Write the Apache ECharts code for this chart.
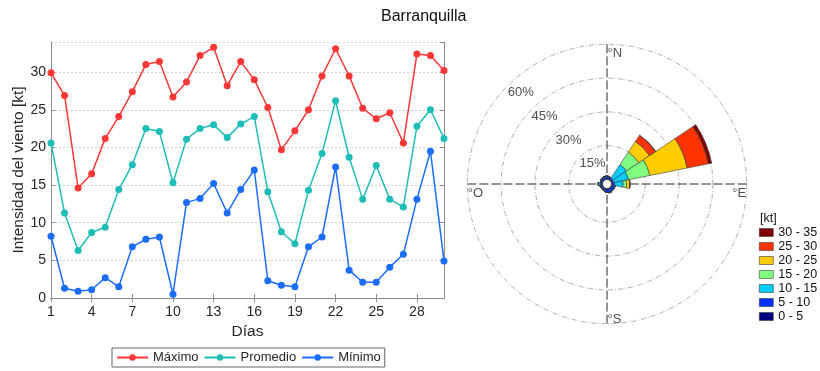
<!DOCTYPE html>
<html>
<head>
<meta charset="utf-8">
<script src="https://cdn.jsdelivr.net/npm/echarts@6/dist/echarts.min.js"></script>
<style>
  html, body { margin: 0; padding: 0; background: #fff; }
  #chart { width: 820px; height: 371px; }
</style>
</head>
<body>
<div id="chart"></div>
<script>
// Serie diaria de viento (kt)
const dias = ['1','2','3','4','5','6','7','8','9','10','11','12','13','14','15',
              '16','17','18','19','20','21','22','23','24','25','26','27','28','29','30'];
const maximo = [29.9, 26.9, 14.6, 16.5, 21.2, 24.1, 27.4, 31.0, 31.4, 26.7, 28.7, 32.2, 33.3, 28.2, 31.4,
                29.0, 25.3, 19.7, 22.2, 25.0, 29.5, 33.1, 29.5, 25.2, 23.8, 24.6, 20.6, 32.4, 32.2, 30.2];
const promedio = [20.6, 11.3, 6.3, 8.7, 9.4, 14.4, 17.7, 22.5, 22.1, 15.3, 21.1, 22.5, 23.0, 21.3, 23.1,
                  24.1, 14.1, 8.8, 7.2, 14.3, 19.2, 26.2, 18.7, 13.1, 17.6, 13.1, 12.1, 22.8, 25.0, 21.2];
const minimo = [8.2, 1.3, 0.9, 1.1, 2.7, 1.5, 6.8, 7.8, 8.1, 0.5, 12.7, 13.2, 15.2, 11.3, 14.4,
                17.0, 2.3, 1.7, 1.5, 6.8, 8.1, 17.4, 3.7, 2.1, 2.1, 4.1, 5.8, 13.1, 19.5, 4.9];
const nombresSeries = ['Máximo', 'Promedio', 'Mínimo'];

// Rosa de vientos: frecuencia (%) por dirección y rango de velocidad
const direcciones = ['N','NNE','NE','ENE','E','ESE','SE','SSE','S','SSO','SO','OSO','O','ONO','NO','NNO'];
const rangos = ['0 - 5','5 - 10','10 - 15','15 - 20','20 - 25','25 - 30','30 - 35'];
const frec_0_5   = [0.4, 0.4, 0.3, 0.3, 0.4, 0.4, 0.4, 0.5, 0.5, 0.4, 0.3, 0.3, 0.3, 0.3, 0.4, 0.4];
const frec_5_10  = [1.1, 0.9, 0.8, 0.8, 1.0, 1.3, 1.4, 1.5, 1.3, 0.9, 0.7, 0.6, 0.7, 0.8, 1.0, 1.1];
const frec_10_15 = [0, 0, 7.3, 6.7, 3.8, 0, 0, 0, 0, 0, 0, 0.3, 0.9, 0, 0, 0];
const frec_15_20 = [0, 0, 6.6, 9.6, 1.5, 0, 0, 0, 0, 0, 0, 0, 0, 0, 0, 0];
const frec_20_25 = [0, 0, 5.7, 16.9, 1.5, 0, 0, 0, 0, 0, 0, 0, 0, 0, 0, 0];
const frec_25_30 = [0, 0, 3.3, 9.6, 0, 0, 0, 0, 0, 0, 0, 0, 0, 0, 0, 0];
const frec_30_35 = [0, 0, 0, 1.5, 0, 0, 0, 0, 0, 0, 0, 0, 0, 0, 0, 0];
const frecuencias = [frec_0_5, frec_5_10, frec_10_15, frec_15_20, frec_20_25, frec_25_30, frec_30_35];
const coloresRangos = ['#000080', '#0033ff', '#00ccff', '#80ff80', '#ffcc00', '#ff3300', '#800000'];

// Anillos y puntos cardinales
const anillos = [15, 30, 45, 60];
const etiquetasAnillos = ['15%', '30%', '45%', '60%'];
const puntosCardinales = ['°N', '°E', '°S', '°O'];
const angulosCardinales = [0, 90, 180, 270];

const txt = '#262626';
const ejeColor = '#8c8c8c';
const fuente = 'Liberation Sans, Arial, sans-serif';

const chart = echarts.init(document.getElementById('chart'), null, { renderer: 'canvas' });

const lineColors = ['#ff3737', '#1ebdb7', '#1a6dff'];
const lineSeries = [maximo, promedio, minimo].map((d, i) => ({
  name: nombresSeries[i],
  type: 'line',
  xAxisIndex: 0,
  yAxisIndex: 0,
  data: d,
  symbol: 'circle',
  symbolSize: 7,
  color: lineColors[i],
  lineStyle: { width: 1.5, color: lineColors[i] },
  itemStyle: { color: lineColors[i] },
  animation: false
}));

const roseSeries = frecuencias.map((d, i) => ({
  name: rangos[i],
  type: 'bar',
  coordinateSystem: 'polar',
  polarIndex: 0,
  stack: 'rosa',
  data: d,
  barCategoryGap: '0%',
  itemStyle: { color: coloresRangos[i], borderColor: '#3a3a3a', borderWidth: 0.6 },
  animation: false
}));

const cardinalLabelCfg = [
  { position: [1, 3], align: 'left', verticalAlign: 'top' },
  { position: [0, 3], align: 'right', verticalAlign: 'top' },
  { position: [1, 3], align: 'left', verticalAlign: 'bottom' },
  { position: [1, 3], align: 'left', verticalAlign: 'top' }
];

const labelData = [];
anillos.forEach((r, i) => {
  labelData.push({
    name: etiquetasAnillos[i],
    value: [r, 315],
    label: { position: [0, 1], align: 'left', verticalAlign: 'top' }
  });
});
puntosCardinales.forEach((t, i) => {
  labelData.push({
    name: t,
    value: [anillos[anillos.length - 1], angulosCardinales[i]],
    label: cardinalLabelCfg[i]
  });
});

const option = {
  backgroundColor: '#fff',
  animation: false,
  textStyle: { fontFamily: fuente },
  title: [
    { text: 'Barranquilla', left: 376, top: 4,
      textStyle: { fontSize: 16, fontWeight: 'normal', color: '#111', fontFamily: fuente } },
    { text: '[kt]', left: 755, top: 207,
      textStyle: { fontSize: 12.5, fontWeight: 'normal', color: '#111', fontFamily: fuente } }
  ],
  legend: [
    {
      data: nombresSeries,
      orient: 'horizontal',
      left: 112, top: 348,
      padding: [3, 4],
      itemWidth: 31, itemHeight: 8, itemGap: 5,
      borderColor: '#666', borderWidth: 1,
      textStyle: { fontSize: 13, color: txt, fontFamily: fuente }
    },
    {
      data: rangos.slice().reverse(),
      orient: 'vertical',
      left: 759, top: 226,
      padding: 0,
      icon: 'rect',
      itemWidth: 14, itemHeight: 8, itemGap: 1,
      itemStyle: { borderWidth: 0.6, borderColor: '#3a3a3a' },
      textStyle: { fontSize: 12.5, color: '#111', fontFamily: fuente }
    }
  ],
  grid: {
    left: 51, right: 376, top: 42, bottom: 73,
    containLabel: false,
    outerBoundsMode: 'none'
  },
  xAxis: [
    {
      type: 'category', data: dias, boundaryGap: false,
      name: 'Días', nameLocation: 'middle', nameGap: 25,
      nameTextStyle: { fontSize: 15.5, color: txt },
      z: 3,
      axisLine: { show: true, lineStyle: { color: ejeColor } },
      axisTick: { show: true, inside: true, length: 4, interval: 2, lineStyle: { color: ejeColor } },
      axisLabel: { interval: 2, fontSize: 14, color: txt, margin: 7 },
      splitLine: { show: false }
    },
    {
      type: 'category', data: dias, boundaryGap: false, position: 'top',
      z: 3,
      axisLine: { show: true, lineStyle: { color: ejeColor } },
      axisTick: { show: true, inside: true, length: 4, interval: 2, lineStyle: { color: ejeColor } },
      axisLabel: { show: false },
      splitLine: { show: false }
    }
  ],
  yAxis: [
    {
      type: 'value', min: 0, max: 34, interval: 5,
      name: 'Intensidad del viento [kt]', nameLocation: 'middle', nameGap: 24,
      nameTextStyle: { fontSize: 15.5, color: txt },
      axisLine: { show: true, lineStyle: { color: ejeColor } },
      axisTick: { show: true, inside: true, length: 4, lineStyle: { color: ejeColor } },
      axisLabel: { fontSize: 14, color: txt, margin: 5, showMaxLabel: false },
      splitLine: { show: true, lineStyle: { color: '#d2d2d2', type: [2, 2], width: 1 } }
    },
    {
      type: 'value', min: 0, max: 34, interval: 5, position: 'right',
      z: 3,
      axisLine: { show: true, lineStyle: { color: ejeColor } },
      axisTick: { show: true, inside: true, length: 4, lineStyle: { color: ejeColor } },
      axisLabel: { show: false },
      splitLine: { show: false }
    }
  ],
  polar: [
    { center: [607, 184], radius: [4.5, 139.7] },
    { center: [607, 184], radius: [4.5, 139.7] }
  ],
  angleAxis: [
    {
      polarIndex: 0, type: 'category', data: direcciones,
      startAngle: 101.25, clockwise: true, boundaryGap: true,
      axisLine: { show: false }, axisTick: { show: false },
      axisLabel: { show: false }, splitLine: { show: false }, splitArea: { show: false }
    },
    {
      polarIndex: 1, type: 'value', min: 0, max: 360, interval: 90,
      startAngle: 90, clockwise: true,
      axisLine: { show: false }, axisTick: { show: false }, axisLabel: { show: false },
      splitLine: { show: true, lineStyle: { color: '#111', type: [9, 3], width: 0.9 } },
      splitArea: { show: false }
    }
  ],
  radiusAxis: [
    {
      polarIndex: 0, type: 'value', min: 0, max: 60, interval: 15,
      axisLine: { show: false }, axisTick: { show: false }, axisLabel: { show: false },
      splitLine: { show: true, lineStyle: { color: '#9a9a9a', type: [5, 2, 1, 2], width: 0.8 } },
      splitArea: { show: false }
    },
    {
      polarIndex: 1, type: 'value', min: 0, max: 60, show: false,
      axisLine: { show: false }, axisTick: { show: false }, axisLabel: { show: false },
      splitLine: { show: false }
    }
  ],
  series: [
    ...lineSeries,
    ...roseSeries,
    {
      type: 'scatter',
      coordinateSystem: 'polar',
      polarIndex: 1,
      symbolSize: 1,
      silent: true,
      itemStyle: { color: 'rgba(0,0,0,0)' },
      data: labelData,
      label: {
        show: true,
        formatter: p => p.name,
        fontSize: 13,
        color: '#222',
        fontFamily: fuente
      },
      z: 10,
      animation: false
    }
  ]
};

chart.setOption(option);
</script>
</body>
</html>
